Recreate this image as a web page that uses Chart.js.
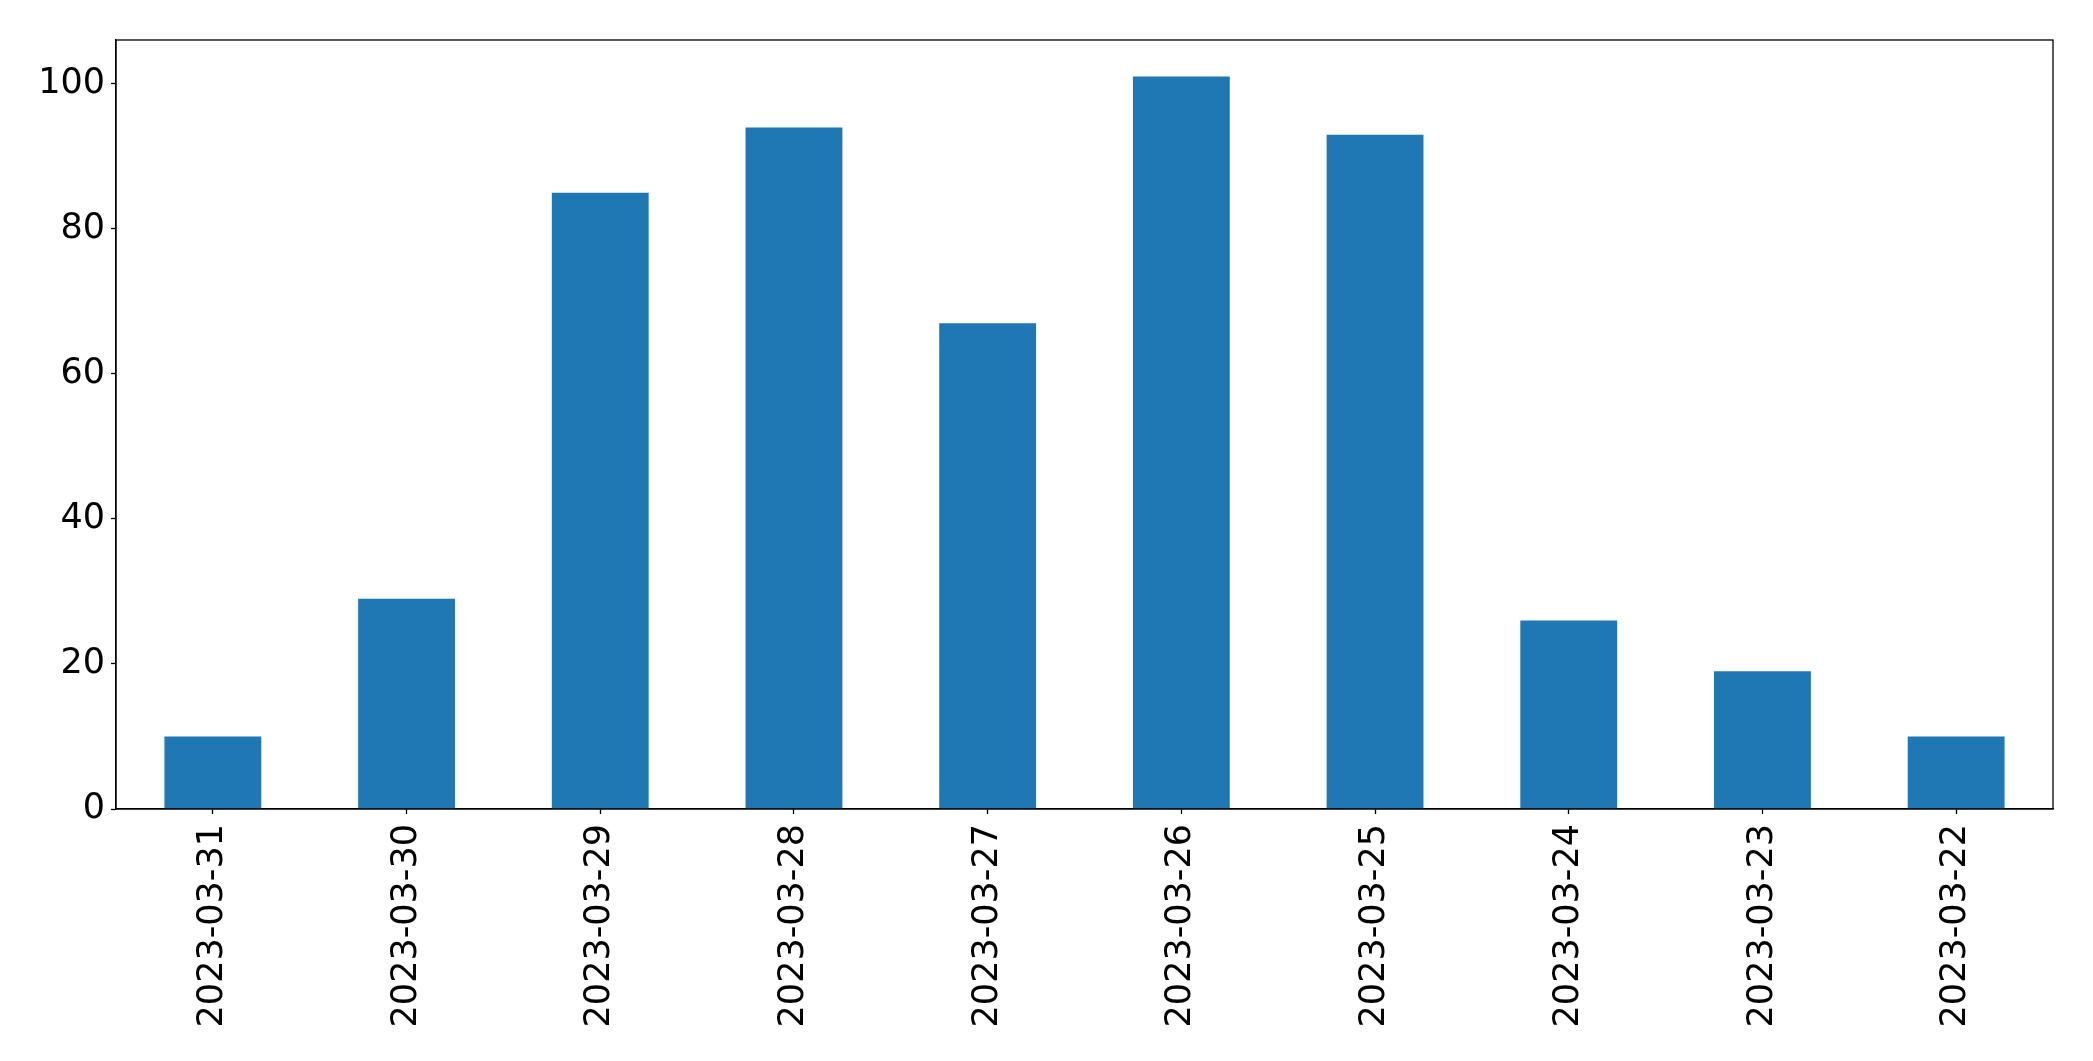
<!DOCTYPE html>
<html>
<head>
<meta charset="utf-8">
<script src="https://cdn.jsdelivr.net/npm/chart.js@4.4.0/dist/chart.umd.min.js"></script>
<style>
  html, body { margin: 0; padding: 0; background: #fff; }
  #wrap { width: 2093px; height: 1061px; }
</style>
</head>
<body>
<div id="wrap"><canvas id="chart" width="2093" height="1061"></canvas></div>
<script>
const dates = ['2023-03-31', '2023-03-30', '2023-03-29', '2023-03-28', '2023-03-27',
               '2023-03-26', '2023-03-25', '2023-03-24', '2023-03-23', '2023-03-22'];
const counts = [10, 29, 85, 94, 67, 101, 93, 26, 19, 10];
const yTicks = [0, 20, 40, 60, 80, 100];

// box around the plot area, like matplotlib's axes frame
const frame = {
    id: 'frame',
    afterDraw(chart) {
        const { ctx, chartArea: a } = chart;
        ctx.save();
        ctx.strokeStyle = '#000';
        ctx.lineWidth = 1.3;
        ctx.strokeRect(a.left, a.top, a.right - a.left, a.bottom - a.top);
        ctx.restore();
    }
};

Chart.defaults.font.family = "'DejaVu Sans', sans-serif";
Chart.defaults.color = '#000';

new Chart(document.getElementById('chart').getContext('2d'), {
    type: 'bar',
    data: {
        labels: dates,
        datasets: [{
            data: counts,
            backgroundColor: '#1f77b4',
            borderWidth: 0,
            barPercentage: 0.5,
            categoryPercentage: 1.0
        }]
    },
    options: {
        responsive: false,
        animation: false,
        devicePixelRatio: 1,
        layout: { padding: { left: 0, right: 40, top: 40, bottom: 0 } },
        plugins: {
            legend: { display: false },
            tooltip: { enabled: false }
        },
        scales: {
            x: {
                offset: true,
                afterFit: (s) => { s.height = 252; },
                grid: { display: true, offset: false, drawOnChartArea: false, tickLength: 5, tickColor: '#000', tickWidth: 1.3 },
                border: { display: true, color: '#000', width: 1.3 },
                ticks: {
                    minRotation: 90,
                    maxRotation: 90,
                    autoSkip: false,
                    padding: 10,
                    font: { size: 35 }
                }
            },
            y: {
                min: 0,
                max: 106.05,
                afterFit: (s) => { s.width = 116; },
                afterBuildTicks: (s) => { s.ticks = yTicks.map(v => ({ value: v })); },
                grid: { display: true, drawOnChartArea: false, tickLength: 5, tickColor: '#000', tickWidth: 1.3 },
                border: { display: true, color: '#000', width: 1.3 },
                ticks: {
                    padding: 6,
                    font: { size: 35 }
                }
            }
        }
    },
    plugins: [frame]
});
</script>
</body>
</html>
